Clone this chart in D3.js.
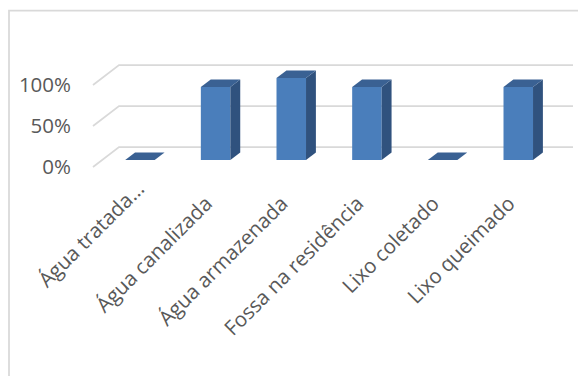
<!DOCTYPE html>
<html>
<head>
<meta charset="utf-8">
<script src="https://cdn.jsdelivr.net/npm/d3@7"></script>
<style>
    body { margin: 0; background: #fff; }
    text { font-family: "Open Sans", "Noto Sans", sans-serif; fill: #595959; }
</style>
</head>
<body>
<div id="chart"></div>
<script>
// chart data
var categories = ["Água tratada...", "Água canalizada", "Água armazenada", "Fossa na residência", "Lixo coletado", "Lixo queimado"];
var values = [0, 0.89, 1.0, 0.89, 0, 0.89];
var yTicks = [0, 0.5, 1];

function Chart() {
    var self = this;
    this.width = 579;
    this.height = 376;
    this.depthX = 26;   // 3d depth of the plot box
    this.depthY = 20;
    this.barZ = [0.35, 0.73]; // bars sit in the middle of the depth
    this.svg = d3.select("#chart").append("svg").attr("width", this.width).attr("height", this.height);

    this.x = d3.scaleBand().domain(categories).range([93, 547]).paddingInner(0.61).paddingOuter(0.305);
    this.y = d3.scaleLinear().domain([0, 1]).range([167, 85]);

    // project a point of the 3d box onto the page
    function pt(px, v, z) {
        return [px + z * self.depthX, self.y(v) - z * self.depthY];
    }
    function poly(points) {
        return points.map(function (p) { return p.join(","); }).join(" ");
    }

    this.frame = function () {
        self.svg.append("path")
            .attr("d", "M9," + self.height + " V10.5 H578")
            .attr("fill", "none")
            .attr("stroke", "#d9d9d9")
            .attr("stroke-width", 1.75);
    };

    this.grid = function () {
        var x0 = self.x.range()[0], x1 = self.x.range()[1];
        var g = self.svg.append("g").attr("stroke", "#d9d9d9").attr("stroke-width", 1.75).attr("fill", "none");
        g.selectAll("polyline").data(yTicks).enter().append("polyline")
            .attr("points", function (v) { return poly([pt(x0, v, 0), pt(x0, v, 1), pt(x1, v, 1)]); });

        self.svg.append("g").selectAll("text").data(yTicks).enter().append("text")
            .attr("x", 71)
            .attr("y", function (v) { return self.y(v); })
            .attr("dy", "0.36em")
            .attr("text-anchor", "end")
            .attr("font-size", "20.5px")
            .text(d3.format(".0%"));
    };

    this.bars = function () {
        var z0 = self.barZ[0], z1 = self.barZ[1];
        var w = self.x.bandwidth();
        var g = self.svg.append("g").selectAll("g").data(categories).enter().append("g");
        g.each(function (c, i) {
            var v = values[i];
            var bx = self.x(c);
            var sel = d3.select(this);
            if (v > 0) {
                sel.append("polygon") // front
                    .attr("points", poly([pt(bx, 0, z0), pt(bx + w, 0, z0), pt(bx + w, v, z0), pt(bx, v, z0)]))
                    .attr("fill", "#4a7ebb");
                sel.append("polygon") // side
                    .attr("points", poly([pt(bx + w, 0, z0), pt(bx + w, 0, z1), pt(bx + w, v, z1), pt(bx + w, v, z0)]))
                    .attr("fill", "#30527e");
            }
            sel.append("polygon") // top
                .attr("points", poly([pt(bx, v, z0), pt(bx + w, v, z0), pt(bx + w, v, z1), pt(bx, v, z1)]))
                .attr("fill", "#3a6193");
        });
    };

    this.labels = function () {
        self.svg.append("g").selectAll("text").data(categories).enter().append("text")
            .attr("transform", function (c) {
                var cx = self.x(c) + self.x.bandwidth() / 2 + 7;
                return "translate(" + cx + "," + (self.y(0) + 38) + ") rotate(-45)";
            })
            // truncated labels sit a bit further along
            .attr("dx", function (c) { return c.slice(-3) === "..." ? 16 : 0; })
            .attr("dy", function (c) { return c.slice(-3) === "..." ? -5 : 0; })
            .attr("text-anchor", "end")
            .attr("font-size", "20.5px")
            .text(function (c) { return c; });
    };

    this.frame();
    this.grid();
    this.bars();
    this.labels();
}

document.addEventListener("DOMContentLoaded", function () {
    new Chart();
});
</script>
</body>
</html>
